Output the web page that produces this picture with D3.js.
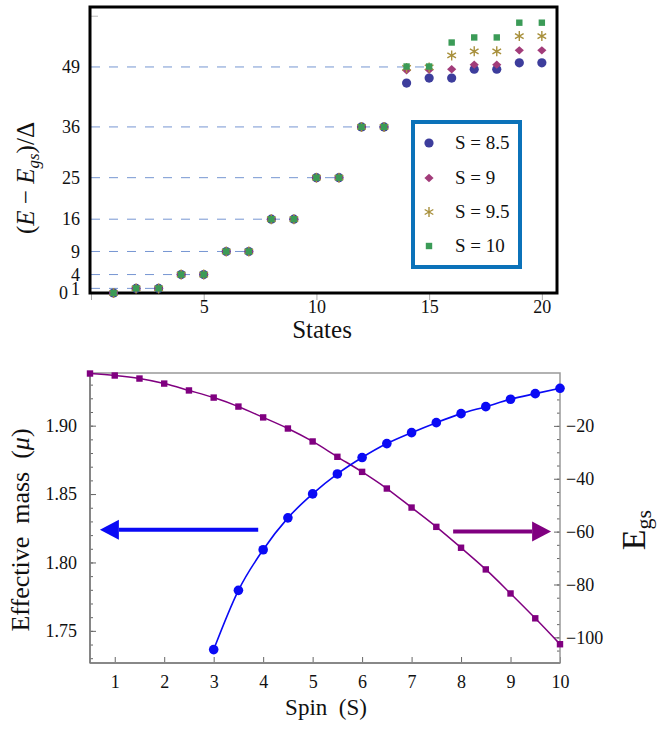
<!DOCTYPE html>
<html><head><meta charset="utf-8">
<script src="https://cdn.jsdelivr.net/npm/d3@7"></script>
<style>
body{margin:0;background:#fff}
svg{display:block}
text{font-family:"Liberation Serif","Times New Roman",serif;fill:#111}
</style>
</head><body>
<svg id="c" width="658" height="732"></svg>
<script>
// ---------- DATA: top panel ----------
const states = [1,2,3,4,5,6,7,8,9,10,11,12,13,14,15,16,17,18,19,20];
const sLabels = ["S = 8.5","S = 9","S = 9.5","S = 10"];
const s85 = [0,1,1,4,4,9,9,16,16,25,25,36,36,45.5,46.6,46.6,48.5,48.5,49.9,49.9];
const s9  = [0,1,1,4,4,9,9,16,16,25,25,36,36,48.3,48.4,48.5,49.5,49.5,52.6,52.6];
const s95 = [0,1,1,4,4,9,9,16,16,25,25,36,36,48.8,48.9,51.5,52.4,52.4,55.7,55.7];
const s10 = [0,1,1,4,4,9,9,16,16,25,25,36,36,49.1,49.1,54.3,55.4,55.4,58.6,58.6];
const levelValues = [1,4,9,16,25,36,49];
const levelLastState = [3,5,7,9,11,13,15];
const topYTicks = [0,1,4,9,16,25,36,49];
const topYExtraTicks = [60];
const topXTicks = [0,5,10,15,20];

// ---------- DATA: bottom panel ----------
const spinMass = [3,3.5,4,4.5,5,5.5,6,6.5,7,7.5,8,8.5,9,9.5,10];
const mass = [1.7363,1.7796,1.8093,1.8326,1.8501,1.8647,1.8767,1.8869,1.8949,1.9022,1.9088,1.9139,1.9193,1.9234,1.9273];
const spinE = [0.5,1,1.5,2,2.5,3,3.5,4,4.5,5,5.5,6,6.5,7,7.5,8,8.5,9,9.5,10];
const egs = [-0.2,-0.95,-2.1,-4.0,-6.6,-9.3,-12.7,-16.8,-21.0,-25.9,-31.7,-37.4,-43.7,-50.9,-58.2,-66.1,-74.3,-83.4,-92.8,-102.6];
const massTicks = [1.75,1.80,1.85,1.90];
const egsTicks = [-100,-80,-60,-40,-20];
const spinTicks = [1,2,3,4,5,6,7,8,9,10];

const svg = d3.select("#c");
const SERIF = "Liberation Serif";

// ================= TOP PANEL =================
const T = {l:90, r:557, t:7, b:293};
const xT = d3.scaleLinear().domain([0,20.65]).range([91, 556.5]);
const yT = d3.scaleLinear().domain([0,62]).range([293, 7]);
const gT = svg.append("g");

// dashed reference levels
gT.selectAll("line.lvl").data(levelValues).join("line")
  .attr("x1", xT(0)).attr("x2", (d,i)=>xT(levelLastState[i]))
  .attr("y1", d=>yT(d)).attr("y2", d=>yT(d))
  .attr("stroke","#7696d2").attr("stroke-width",1).attr("stroke-dasharray","9,9");

// axes
const axB = d3.axisBottom(xT).tickValues(topXTicks).tickSize(7).tickPadding(4)
  .tickFormat(d=> d===0 ? "" : d);
const gxB = gT.append("g").attr("transform",`translate(0,${T.b})`).call(axB);
gxB.select(".domain").remove();
gxB.selectAll("line").attr("stroke","#aaa");
gxB.selectAll("text").attr("font-size",18).attr("fill","#111")
  .attr("font-family",SERIF).attr("dy","0.5em");

const axL = d3.axisLeft(yT).tickValues(topYTicks).tickSize(0).tickPadding(10)
  .tickFormat(d=>d);
const gyL = gT.append("g").attr("transform",`translate(${T.l},0)`).call(axL);
gyL.select(".domain").remove();
gyL.selectAll("text").attr("font-size",18).attr("fill","#111")
  .attr("font-family",SERIF)
  .attr("x", d=> d===0 ? -22 : -10);
gT.selectAll("line.ext").data(topYExtraTicks).join("line")
  .attr("x1",T.l+1).attr("x2",T.l+8).attr("y1",d=>yT(d)).attr("y2",d=>yT(d))
  .attr("stroke","#bbb");

// frame
gT.append("rect").attr("x",T.l).attr("y",T.t).attr("width",T.r-T.l).attr("height",T.b-T.t)
  .attr("fill","none").attr("stroke","#000").attr("stroke-width",3);

// markers
const cols = ["#3d3d9c","#a23c7a","#a8903c","#3b9b57"];
function marker(sel, k, x, y){
  if(k===0){ sel.append("circle").attr("cx",x).attr("cy",y).attr("r",4.6).attr("fill",cols[0]); }
  else if(k===1){ sel.append("path").attr("d",`M${x},${y-4.2}L${x+4.6},${y}L${x},${y+4.2}L${x-4.6},${y}Z`).attr("fill",cols[1]); }
  else if(k===2){
    let d="";
    [90,30,150].forEach(a=>{const r=5,c=Math.cos(a*Math.PI/180),s=Math.sin(a*Math.PI/180);
      d+=`M${x-r*c},${y-r*s}L${x+r*c},${y+r*s}`;});
    sel.append("path").attr("d",d).attr("stroke",cols[2]).attr("stroke-width",1.4).attr("fill","none");
  } else { sel.append("rect").attr("x",x-3.2).attr("y",y-3.2).attr("width",6.4).attr("height",6.4).attr("fill",cols[3]); }
}
[s85,s9,s95,s10].forEach((ser,k)=>{
  const g = gT.append("g");
  ser.forEach((v,i)=> marker(g,k,xT(states[i]),yT(v)));
});

// labels
gT.append("text").attr("x",322).attr("y",338).attr("text-anchor","middle")
  .attr("font-size",25).text("States");
const yt = gT.append("text").attr("transform","translate(34,178) rotate(-90)")
  .attr("text-anchor","middle").attr("font-size",25);
yt.append("tspan").text("(");
yt.append("tspan").attr("font-style","italic").text("E");
yt.append("tspan").text(" − ");
yt.append("tspan").attr("font-style","italic").text("E");
yt.append("tspan").attr("font-style","italic").attr("font-size",17).attr("dy",5).text("gs");
yt.append("tspan").attr("dy",-5).text(")/Δ");

// legend
const lg = gT.append("g");
lg.append("rect").attr("x",413).attr("y",122).attr("width",107).attr("height",145)
  .attr("fill","#fff").attr("stroke","#0b72b9").attr("stroke-width",4);
const legRows = [143,178,212,246];
sLabels.forEach((s,k)=>{
  marker(lg,k,429,legRows[k]);
  lg.append("text").attr("x",455).attr("y",legRows[k]+6).attr("font-size",19)
    .attr("font-family",SERIF).text(s);
});

// ================= BOTTOM PANEL =================
const B = {l:90, r:560, t:373, b:663};
const xB = d3.scaleLinear().domain([0.5,10]).range([B.l,B.r]);
const yM = d3.scaleLinear().domain([1.7265,1.9385]).range([B.b,B.t]);
const yE = d3.scaleLinear().domain([-109.7,0]).range([B.b,B.t]);
const gB = svg.append("g");
const tickCol = "#666";

// left axis (mass)
const gML = gB.append("g").attr("transform",`translate(${B.l},0)`)
  .call(d3.axisLeft(yM).tickValues(massTicks).tickSize(-6).tickPadding(13).tickFormat(d3.format(".2f")));
const gMLm = gB.append("g").attr("transform",`translate(${B.l},0)`)
  .call(d3.axisLeft(yM).tickValues(d3.range(1.73,1.9385,0.01)).tickSize(-3).tickFormat(""));
// right axis (Egs)
const gER = gB.append("g").attr("transform",`translate(${B.r},0)`)
  .call(d3.axisRight(yE).tickValues(egsTicks).tickSize(-6).tickPadding(6).tickFormat(d=>"−"+Math.abs(d)));
const gERm = gB.append("g").attr("transform",`translate(${B.r},0)`)
  .call(d3.axisRight(yE).tickValues(d3.range(-105,0,5)).tickSize(-3).tickFormat(""));
// bottom axis
const gXB = gB.append("g").attr("transform",`translate(0,${B.b})`)
  .call(d3.axisBottom(xB).tickValues(spinTicks).tickSize(-6).tickPadding(12));
[gML,gMLm,gER,gERm,gXB].forEach(g=>{
  g.select(".domain").remove();
  g.selectAll("line").attr("stroke",tickCol).attr("stroke-width",1);
  g.selectAll("text").attr("font-size",18).attr("fill","#111").attr("font-family",SERIF);
});
gXB.selectAll("text").attr("dy","0.71em");

gB.append("rect").attr("x",B.l).attr("y",B.t).attr("width",B.r-B.l).attr("height",B.b-B.t)
  .attr("fill","none").attr("stroke","#999").attr("stroke-width",1.5);
gB.append("line").attr("x1",B.l).attr("x2",B.r).attr("y1",B.b).attr("y2",B.b)
  .attr("stroke","#888").attr("stroke-width",2);
gB.append("line").attr("x1",B.l).attr("x2",B.l).attr("y1",B.t).attr("y2",B.b)
  .attr("stroke","#777").attr("stroke-width",1.5);

// purple Egs line + squares
const purple = "#800080", blue = "#0a0af5";
gB.append("path").datum(spinE.map((s,i)=>[s,egs[i]]))
  .attr("d", d3.line().x(d=>xB(d[0])).y(d=>yE(d[1])).curve(d3.curveMonotoneX))
  .attr("fill","none").attr("stroke",purple).attr("stroke-width",1.5);
gB.selectAll("rect.eg").data(spinE).join("rect")
  .attr("x",(d)=>xB(d)-3.2).attr("y",(d,i)=>yE(egs[i])-3.2).attr("width",6.4).attr("height",6.4)
  .attr("fill",purple);

// blue mass line + circles
gB.append("path").datum(spinMass.map((s,i)=>[s,mass[i]]))
  .attr("d", d3.line().x(d=>xB(d[0])).y(d=>yM(d[1])).curve(d3.curveMonotoneX))
  .attr("fill","none").attr("stroke",blue).attr("stroke-width",1.6);
gB.selectAll("circle.m").data(spinMass).join("circle")
  .attr("cx",d=>xB(d)).attr("cy",(d,i)=>yM(mass[i])).attr("r",4.8).attr("fill",blue);

// arrows
function arrow(x0,x1,y,col){
  const dir = Math.sign(x1-x0), head=19;
  gB.append("line").attr("x1",x0).attr("x2",x1-dir*head).attr("y1",y).attr("y2",y)
    .attr("stroke",col).attr("stroke-width",4);
  gB.append("path").attr("d",`M${x1},${y}L${x1-dir*head},${y-10}L${x1-dir*head},${y+10}Z`).attr("fill",col);
}
arrow(xB(3.9), xB(0.7), yM(1.8239), blue);
arrow(xB(7.84), xB(9.82), yE(-60), purple);

// axis titles
gB.append("text").attr("x",326).attr("y",715).attr("text-anchor","middle").attr("font-size",23)
  .attr("xml:space","preserve").text("Spin  (S)");
const ml = gB.append("text").attr("transform","translate(29,530) rotate(-90)")
  .attr("text-anchor","middle").attr("font-size",26).attr("xml:space","preserve");
ml.append("tspan").text("Effective  mass  (");
ml.append("tspan").attr("font-style","italic").text("μ");
ml.append("tspan").text(")");
const el = gB.append("text").attr("transform","translate(645,530) rotate(-90)")
  .attr("text-anchor","middle").attr("font-size",34);
el.append("tspan").text("E");
el.append("tspan").attr("font-size",22).attr("dy",6).text("gs");
</script>
</body></html>
